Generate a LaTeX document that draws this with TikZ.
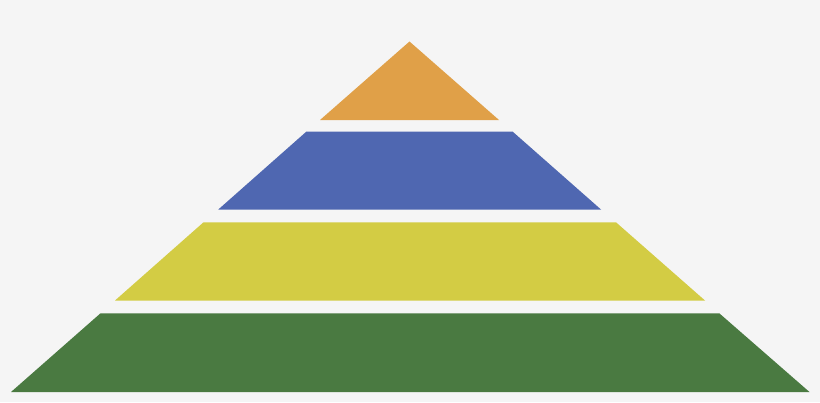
\documentclass[tikz,border=0pt]{standalone}
\definecolor{bg}{RGB}{245,245,245}
\definecolor{lorange}{RGB}{224,160,72}
\definecolor{lblue}{RGB}{79,103,177}
\definecolor{lyellow}{RGB}{211,204,68}
\definecolor{lgreen}{RGB}{74,122,65}
\tikzset{layer/.style={draw=none}}
\begin{document}
\begin{tikzpicture}[x=1pt,y=-1pt]
\fill[bg] (0,0) rectangle (820,402);
\useasboundingbox (0,0) rectangle (820,402);
\fill[layer,lorange] (409.5,41.5) -- (499,120) -- (320,120) -- cycle;
\fill[layer,lblue] (306.5,131.5) -- (512.5,131.5) -- (601,209.5) -- (218.3,209.5) -- cycle;
\fill[layer,lyellow] (203.5,222.3) -- (616,222.3) -- (705,300.5) -- (115,300.5) -- cycle;
\fill[layer,lgreen] (100.5,313.3) -- (719.3,313.3) -- (809.5,392) -- (11,392) -- cycle;
\end{tikzpicture}
\end{document}
